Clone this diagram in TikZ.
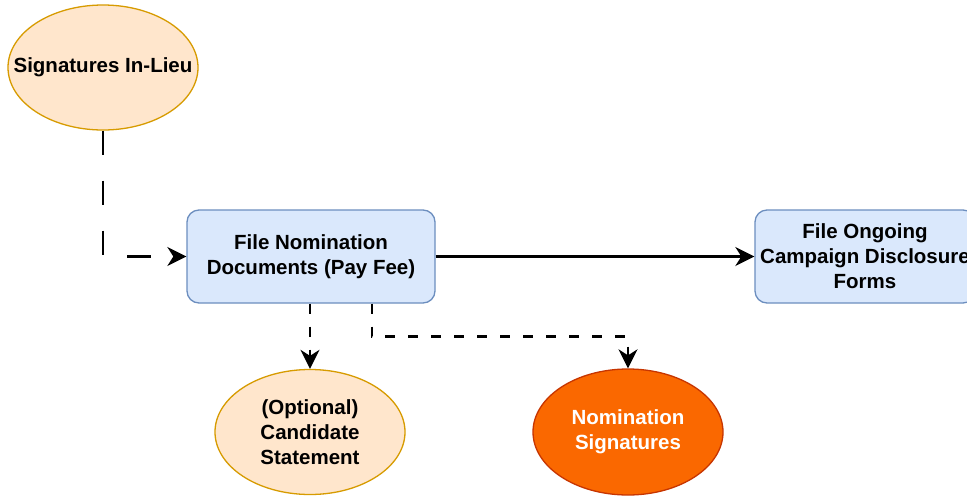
\documentclass[tikz,border=0pt]{standalone}
\usepackage{fontspec}
\setmainfont{Liberation Sans}
\usetikzlibrary{shapes.geometric,arrows.meta}
\definecolor{peachfill}{HTML}{FFE6CC}
\definecolor{peachline}{HTML}{D79B00}
\definecolor{bluefill}{HTML}{DAE8FC}
\definecolor{blueline}{HTML}{6C8EBF}
\definecolor{orangefill}{HTML}{FA6800}
\definecolor{orangeline}{HTML}{C73500}
\begin{document}
\begin{tikzpicture}[x=1pt,y=-1pt,
  every node/.style={font=\fontsize{20.5}{25}\selectfont\bfseries, align=center, inner sep=0pt},
  peach/.style={ellipse, draw=peachline, fill=peachfill, line width=1.3pt, minimum width=190pt, minimum height=125pt, inner xsep=-25pt},
  orangeell/.style={ellipse, draw=orangeline, fill=orangefill, line width=1.3pt, minimum width=190pt, minimum height=126pt, inner xsep=-25pt, text=white},
  bluebox/.style={rectangle, rounded corners=12pt, draw=blueline, fill=bluefill, line width=1.3pt, minimum height=93pt},
  longdash/.style={line width=2.5pt, dash pattern=on 24pt off 26pt},
  shortdash/.style={line width=2.5pt, dash pattern=on 10pt off 13pt},
  arrowtip/.style={-{Stealth[length=19pt,width=19pt,inset=6pt]}}
]
\useasboundingbox (0,0) rectangle (967,496);
\clip (0,0) rectangle (967,496);
\fill[white] (0,0) rectangle (967,496);
\node[peach] (sil) at (103,67.5) {Signatures In-Lieu};
\node[bluebox, minimum width=248pt] (fnd) at (311,256.5) {File Nomination\\Documents (Pay Fee)};
\node[bluebox, minimum width=220pt] (fog) at (865,256.5) {File Ongoing\\Campaign Disclosure\\Forms};
\node[peach] (ocs) at (310,432) {(Optional)\\Candidate\\Statement};
\node[orangeell] (ns) at (628,432) {Nomination\\Signatures};
\draw[longdash, arrowtip] (sil.south) |- (fnd.west);
\draw[line width=2.5pt, arrowtip] (fnd.east) -- (fog.west);
\draw[shortdash, arrowtip] (ocs.north |- fnd.south) -- (ocs.north);
\draw[shortdash, arrowtip] ([xshift=61pt]fnd.south) -- ++(0,33) -| (ns.north);
\end{tikzpicture}
\end{document}
